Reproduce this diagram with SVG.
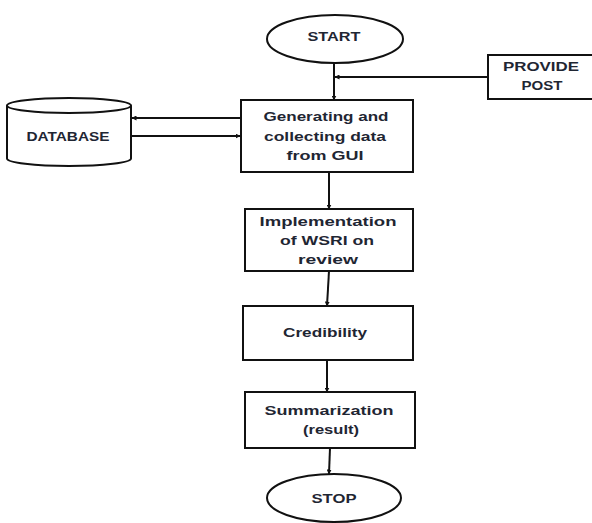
<svg xmlns="http://www.w3.org/2000/svg" width="592" height="523" viewBox="0 0 592 523">
<defs>
<marker id="ah" viewBox="0 0 10 10" refX="9" refY="5" markerWidth="5" markerHeight="5" orient="auto" markerUnits="userSpaceOnUse">
<path d="M0,0 L10,5 L0,10 z" fill="#111"/>
</marker>
<style>
.shape{fill:#fff;stroke:#111;stroke-width:2}
.conn{fill:none;stroke:#111;stroke-width:2;marker-end:url(#ah)}
.line{fill:none;stroke:#111;stroke-width:2}
.t{font-family:"Liberation Sans",Arial,sans-serif;font-weight:bold;font-size:13px;fill:#1f2633;text-anchor:middle;dominant-baseline:central}
</style>
</defs>
<rect width="592" height="523" fill="#fff"/>
<g id="connectors">
<line class="line" x1="334" y1="63" x2="334" y2="90"/>
<path class="conn" d="M334,88 L334,100"/>
<path class="conn" d="M488,77 L335,77"/>
<path class="conn" d="M241,118 L132,118"/>
<path class="conn" d="M132,136 L240,136"/>
<path class="conn" d="M329,172 L329,209"/>
<path class="conn" d="M329,271 L327,306"/>
<path class="conn" d="M327,360 L327,392"/>
<path class="conn" d="M330,448 L329,474"/>
</g>
<g id="start">
<ellipse class="shape" cx="335" cy="39" rx="68" ry="24"/>
<text class="t" x="334" y="36" textLength="53" lengthAdjust="spacingAndGlyphs">START</text>
</g>
<g id="provide-post">
<rect class="shape" x="488" y="55" width="112" height="44"/>
<text class="t" x="541" y="66" textLength="76" lengthAdjust="spacingAndGlyphs">PROVIDE</text>
<text class="t" x="542" y="85" textLength="41" lengthAdjust="spacingAndGlyphs">POST</text>
</g>
<g id="database">
<path class="shape" d="M7,105.5 L7,158.5 A62,7.5 0 0 0 131,158.5 L131,105.5"/>
<ellipse class="shape" cx="69" cy="105.5" rx="62" ry="7.5"/>
<text class="t" x="68" y="136" textLength="83" lengthAdjust="spacingAndGlyphs">DATABASE</text>
</g>
<g id="generating">
<rect class="shape" x="241" y="100" width="172" height="72"/>
<text class="t" x="326" y="116" textLength="125" lengthAdjust="spacingAndGlyphs">Generating and</text>
<text class="t" x="325" y="136" textLength="122" lengthAdjust="spacingAndGlyphs">collecting data</text>
<text class="t" x="325" y="155" textLength="77" lengthAdjust="spacingAndGlyphs">from GUI</text>
</g>
<g id="implementation">
<rect class="shape" x="245" y="209" width="168" height="62"/>
<text class="t" x="328" y="221" textLength="137" lengthAdjust="spacingAndGlyphs">Implementation</text>
<text class="t" x="327" y="240" textLength="94" lengthAdjust="spacingAndGlyphs">of WSRI on</text>
<text class="t" x="328" y="259" textLength="60" lengthAdjust="spacingAndGlyphs">review</text>
</g>
<g id="credibility">
<rect class="shape" x="243" y="306" width="170" height="54"/>
<text class="t" x="325" y="332" textLength="84" lengthAdjust="spacingAndGlyphs">Credibility</text>
</g>
<g id="summarization">
<rect class="shape" x="245" y="392" width="170" height="56"/>
<text class="t" x="329" y="410" textLength="129" lengthAdjust="spacingAndGlyphs">Summarization</text>
<text class="t" x="331" y="429" textLength="56" lengthAdjust="spacingAndGlyphs">(result)</text>
</g>
<g id="stop">
<ellipse class="shape" cx="334" cy="498" rx="67" ry="24"/>
<text class="t" x="334" y="498" textLength="45" lengthAdjust="spacingAndGlyphs">STOP</text>
</g>
</svg>
